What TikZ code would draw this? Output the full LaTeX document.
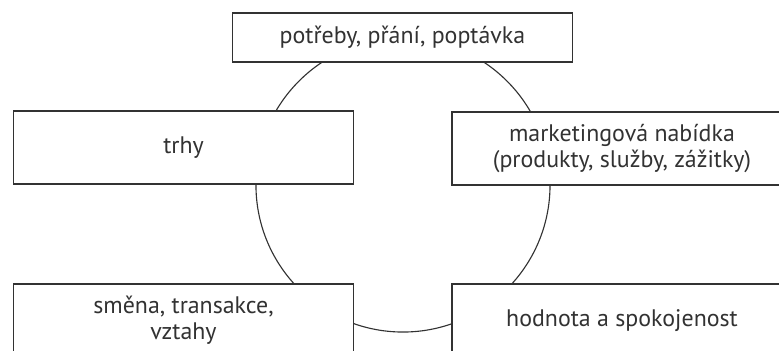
\documentclass[tikz,border=0pt]{standalone}
\usepackage{fontspec}
\setmainfont{PT Sans}
\usetikzlibrary{positioning}
\definecolor{ink}{RGB}{50,50,50}
\tikzset{
	boxnode/.style={rectangle, draw=ink, fill=white, line width=0.8pt, text=ink, align=center, inner sep=0pt, minimum width=8.5cm, font=\fontsize{17}{18.5}\selectfont},
	widebox/.style={boxnode, minimum height=1.825cm},
	ring/.style={draw=ink, line width=0.8pt}
}

\begin{document}
\begin{tikzpicture}[x=0.025cm, y=-0.025cm]
		\path[use as bounding box, clip] (0,0) rectangle (779,350);
		\coordinate (c) at (403,185);
		\draw[ring] (c) circle[radius=3.675cm];

		\node[boxnode, minimum height=1.225cm] at (402.5,37.5) (need) {potřeby, přání, poptávka};
		\node[widebox] at (183.5,147.5) (trhy) {trhy};
		\node[widebox] at (622,148.5) (offer) {marketingová nabídka\\(produkty, služby, zážitky)};
		\node[widebox] at (183.5,320.5) (exch) {směna, transakce,\\vztahy};
		\node[widebox] at (622,320.5) (value) {hodnota a spokojenost};
	\end{tikzpicture}
\end{document}
